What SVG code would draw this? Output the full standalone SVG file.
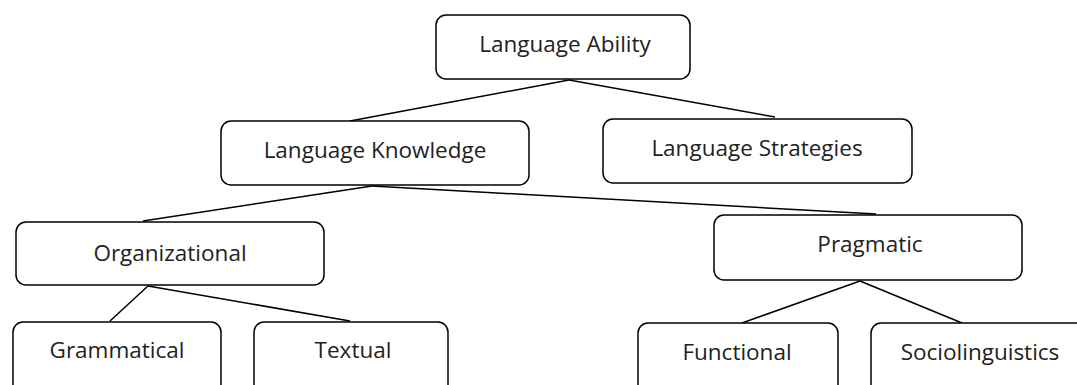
<svg xmlns="http://www.w3.org/2000/svg" width="1077" height="385" viewBox="0 0 1077 385">
<style>
.box{fill:#fff;stroke:#000;stroke-width:1.5}
.lbl{font-family:"Open Sans",sans-serif;font-size:22.5px;fill:#222;text-anchor:middle}
.con{stroke:#000;stroke-width:1.5;fill:none}
</style>
<rect width="1077" height="385" fill="#fff"/>
<g id="connectors">
<line class="con" x1="569" y1="80" x2="350" y2="121"/>
<line class="con" x1="569" y1="80" x2="775" y2="117"/>
<line class="con" x1="372" y1="186" x2="143" y2="221"/>
<line class="con" x1="372" y1="186" x2="876" y2="214"/>
<line class="con" x1="148" y1="286" x2="110" y2="321"/>
<line class="con" x1="148" y1="286" x2="350" y2="321"/>
<line class="con" x1="860" y1="281" x2="742" y2="323"/>
<line class="con" x1="860" y1="281" x2="962" y2="323"/>
</g>
<g id="ability"><rect class="box" x="436" y="15" width="254" height="64" rx="10"/><text class="lbl" x="565" y="52">Language Ability</text></g>
<g id="knowledge"><rect class="box" x="221" y="121" width="308" height="64" rx="10"/><text class="lbl" x="375" y="158">Language Knowledge</text></g>
<g id="strategies"><rect class="box" x="603" y="119" width="309" height="64" rx="10"/><text class="lbl" x="757" y="156">Language Strategies</text></g>
<g id="organizational"><rect class="box" x="16" y="222" width="308" height="63" rx="10"/><text class="lbl" x="170" y="261">Organizational</text></g>
<g id="pragmatic"><rect class="box" x="714" y="215" width="308" height="65" rx="10"/><text class="lbl" x="870" y="252">Pragmatic</text></g>
<g id="grammatical"><rect class="box" x="13" y="322" width="208" height="75" rx="10"/><text class="lbl" x="117" y="358">Grammatical</text></g>
<g id="textual"><rect class="box" x="254" y="322" width="194" height="75" rx="10"/><text class="lbl" x="353" y="358">Textual</text></g>
<g id="functional"><rect class="box" x="638" y="323" width="200" height="75" rx="10"/><text class="lbl" x="737" y="360">Functional</text></g>
<g id="sociolinguistics"><rect class="box" x="871" y="323" width="218" height="75" rx="10"/><text class="lbl" x="980" y="360">Sociolinguistics</text></g>
</svg>
